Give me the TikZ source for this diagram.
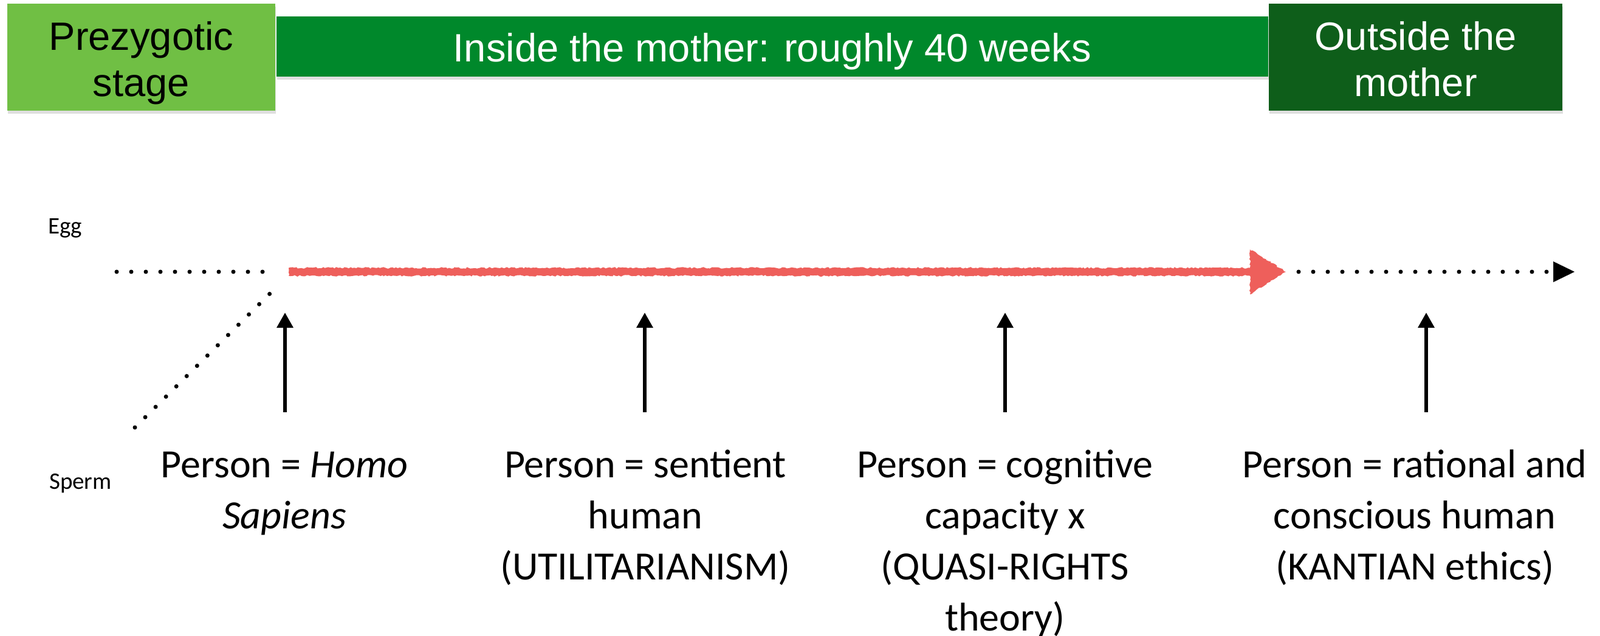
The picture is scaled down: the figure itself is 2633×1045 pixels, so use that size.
\documentclass[tikz,border=0pt]{standalone}
\usepackage{fontspec}
\setmainfont{Carlito}
\newfontfamily\boxfont{Liberation Sans}
\usetikzlibrary{arrows.meta,shadows,calc,decorations.pathmorphing}
\definecolor{prezyg}{RGB}{112,191,68}
\definecolor{insidec}{RGB}{0,136,43}
\definecolor{outsidec}{RGB}{14,94,26}
\definecolor{chalk}{RGB}{238,95,91}
\begin{document}
\begin{tikzpicture}[x=1pt,y=-1pt,
  stagebox/.style={rectangle, inner sep=0pt,
    drop shadow={opacity=0.25, shadow xshift=1pt, shadow yshift=-5pt}},
  stagetext/.style={inner sep=0pt, align=center, anchor=base,
    font=\boxfont\fontsize{65}{76}\selectfont},
  persontext/.style={inner sep=0pt, align=center, anchor=base, font=\fontsize{66}{84}\selectfont},
  gamete/.style={inner sep=0pt, anchor=base west, font=\fontsize{39}{47}\selectfont},
  dotline/.style={line width=7pt, line cap=round, dash pattern=on 0pt off 24pt},
  uparrow/.style={line width=6pt, -{Triangle[length=25pt,width=26pt]}},
  chalkarrow/.style={fill=chalk, decorate,
    decoration={random steps, segment length=3pt, amplitude=1.3pt}},
]
\useasboundingbox[fill=white] (0,0) rectangle (2633,1045);

% stage boxes
\node[stagebox, fill=insidec, minimum width=1632pt, minimum height=99pt] (ins) at (1271,76.5) {};
\node[stagebox, fill=prezyg, minimum width=441pt, minimum height=176pt] (pre) at (232.5,94) {};
\node[stagebox, fill=outsidec, minimum width=483pt, minimum height=176pt] (out) at (2329.5,94) {};
\node[stagetext, text=white] (instext) at (1271,101) {Inside the mother: roughly 40 weeks};
\node[stagetext, text=black] (pretext) at (232.5,158) {Prezygotic\\stage};
\node[stagetext, text=white] (outtext) at (2329.5,158) {Outside the\\mother};

% gametes
\node[gamete] (egg) at (79,384) {Egg};
\node[gamete] (sperm) at (81,804) {Sperm};

% timeline coordinates
\coordinate (eggstart) at (192,447);
\coordinate (eggend) at (433,447);
\coordinate (spermstart) at (222,703);
\coordinate (spermend) at (444,483);
\coordinate (zygote) at (475,447);
\coordinate (birth) at (2116,447);
\coordinate (after) at (2137,447);
\coordinate (future) at (2591,447);

\draw[dotline] (eggstart) -- (eggend);
\draw[dotline] (spermstart) -- (spermend);
% chalk-like red arrow from zygote to birth
\path[chalkarrow] ($(zygote)+(0,-6.5)$) -- ($(birth)+(-59,-6.5)$) -- ($(birth)+(-59,-37)$)
  -- (birth) -- ($(birth)+(-59,37)$) -- ($(birth)+(-59,6.5)$) -- ($(zygote)+(0,6.5)$) -- cycle;
\draw[dotline, -{Triangle[length=35pt,width=34pt,line width=0.5pt]}] (after) -- (future);

% person definitions (anchor = baseline of last line)
\node[persontext] (t1) at (468,869) {Person = \textit{Homo}\\\textit{Sapiens}};
\node[persontext] (t2) at (1062,953) {Person = sentient\\human\\(UTILITARIANISM)};
\node[persontext] (t3) at (1654,1037) {Person = cognitive\\capacity x\\(QUASI-RIGHTS\\theory)};
\node[persontext] (t4) at (2328,953) {Person = rational and\\conscious human\\(KANTIAN ethics)};

% arrows
\coordinate (a1b) at (469,678); \coordinate (a1t) at (469,514);
\coordinate (a2b) at (1061,678); \coordinate (a2t) at (1061,514);
\coordinate (a3b) at (1654,678); \coordinate (a3t) at (1654,514);
\coordinate (a4b) at (2347,678); \coordinate (a4t) at (2347,514);
\draw[uparrow] (a1b) -- (a1t);
\draw[uparrow] (a2b) -- (a2t);
\draw[uparrow] (a3b) -- (a3t);
\draw[uparrow] (a4b) -- (a4t);
\end{tikzpicture}
\end{document}
